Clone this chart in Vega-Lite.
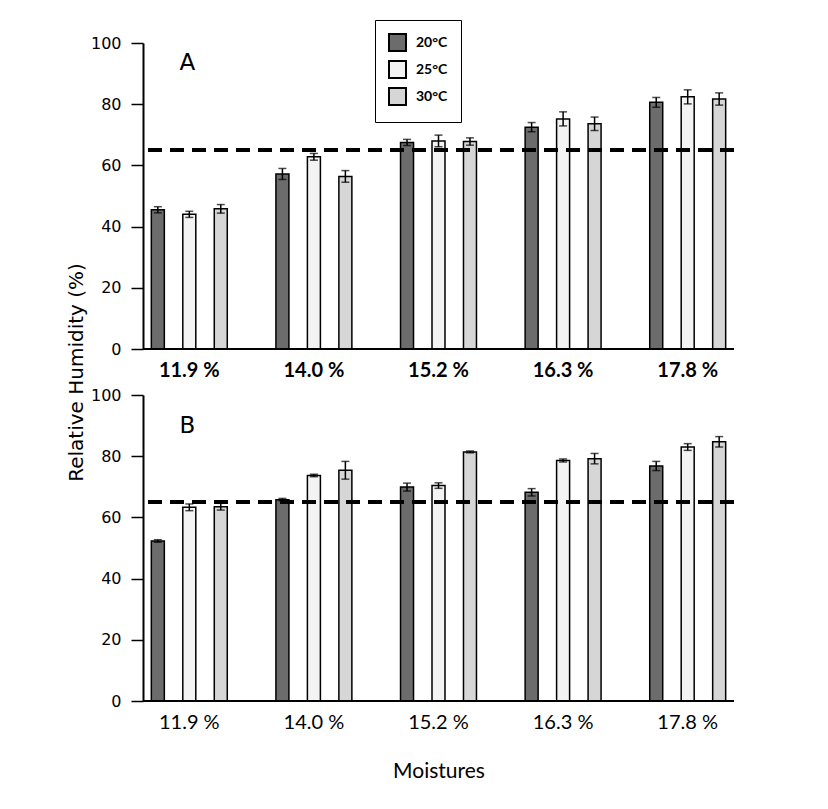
{
  "$schema": "https://vega.github.io/schema/vega-lite/v6.json",
  "background": "white",
  "padding": {"left": 66, "top": 19, "right": 10, "bottom": 10},
  "bounds": "flush",
  "spacing": 46,
  "datasets": {
    "A": [
      {"moisture": "11.9 %", "temp": "20°C", "rh": 45.5, "err": 1.0},
      {"moisture": "11.9 %", "temp": "25°C", "rh": 44.0, "err": 1.0},
      {"moisture": "11.9 %", "temp": "30°C", "rh": 45.8, "err": 1.4},
      {"moisture": "14.0 %", "temp": "20°C", "rh": 57.2, "err": 1.8},
      {"moisture": "14.0 %", "temp": "25°C", "rh": 62.8, "err": 1.1},
      {"moisture": "14.0 %", "temp": "30°C", "rh": 56.4, "err": 1.9},
      {"moisture": "15.2 %", "temp": "20°C", "rh": 67.5, "err": 1.0},
      {"moisture": "15.2 %", "temp": "25°C", "rh": 68.0, "err": 1.9},
      {"moisture": "15.2 %", "temp": "30°C", "rh": 67.8, "err": 1.2},
      {"moisture": "16.3 %", "temp": "20°C", "rh": 72.5, "err": 1.5},
      {"moisture": "16.3 %", "temp": "25°C", "rh": 75.2, "err": 2.3},
      {"moisture": "16.3 %", "temp": "30°C", "rh": 73.6, "err": 2.2},
      {"moisture": "17.8 %", "temp": "20°C", "rh": 80.6, "err": 1.6},
      {"moisture": "17.8 %", "temp": "25°C", "rh": 82.4, "err": 2.3},
      {"moisture": "17.8 %", "temp": "30°C", "rh": 81.7, "err": 2.0}
    ],
    "B": [
      {"moisture": "11.9 %", "temp": "20°C", "rh": 52.3, "err": 0.4},
      {"moisture": "11.9 %", "temp": "25°C", "rh": 63.3, "err": 1.1},
      {"moisture": "11.9 %", "temp": "30°C", "rh": 63.5, "err": 1.1},
      {"moisture": "14.0 %", "temp": "20°C", "rh": 65.8, "err": 0.4},
      {"moisture": "14.0 %", "temp": "25°C", "rh": 73.7, "err": 0.4},
      {"moisture": "14.0 %", "temp": "30°C", "rh": 75.4, "err": 2.9},
      {"moisture": "15.2 %", "temp": "20°C", "rh": 69.9, "err": 1.3},
      {"moisture": "15.2 %", "temp": "25°C", "rh": 70.4, "err": 0.9},
      {"moisture": "15.2 %", "temp": "30°C", "rh": 81.4, "err": 0.3},
      {"moisture": "16.3 %", "temp": "20°C", "rh": 68.2, "err": 1.2},
      {"moisture": "16.3 %", "temp": "25°C", "rh": 78.6, "err": 0.5},
      {"moisture": "16.3 %", "temp": "30°C", "rh": 79.2, "err": 1.7},
      {"moisture": "17.8 %", "temp": "20°C", "rh": 76.8, "err": 1.5},
      {"moisture": "17.8 %", "temp": "25°C", "rh": 83.0, "err": 1.1},
      {"moisture": "17.8 %", "temp": "30°C", "rh": 84.7, "err": 1.7}
    ]
  },
  "resolve": {"scale": {"fill": "shared"}, "legend": {"fill": "shared"}},
  "vconcat": [
    {
      "width": 591,
      "height": 306,
      "layer": [
        {
          "data": {"name": "A"},
          "mark": {"type": "bar", "stroke": "black", "strokeWidth": 1.5},
          "encoding": {
            "x": {"field": "moisture", "type": "nominal", "sort": null,
              "scale": {"range": [-16, 607], "paddingInner": 0, "paddingOuter": 0},
              "axis": {"title": null, "domain": false, "ticks": false, "tickSize": 0, "labelPadding": 11, "labelDx": 16, "labelAngle": 0, "labelFont": "Lato", "labelFontSize": 20, "labelFontWeight": "bold", "labelColor": "black"}},
            "xOffset": {"field": "temp", "type": "nominal", "scale": {"paddingInner": 0.587, "paddingOuter": 0.773}},
            "y": {"field": "rh", "type": "quantitative", "title": "Relative Humidity (%)", "scale": {"domain": [0, 100], "nice": false},
              "axis": {"values": [0, 20, 40, 60, 80, 100], "grid": false, "title": "Relative Humidity (%)", "titleX": -57, "titleY": 329, "titleFont": "DejaVu Sans", "titleFontSize": 20, "titleFontWeight": "normal", "titleColor": "black",
                "domainColor": "black", "domainWidth": 2, "tickColor": "black", "tickWidth": 1.5, "tickSize": 12, "labelPadding": 10, "labelFont": "DejaVu Sans", "labelFontSize": 16, "labelColor": "black"}},
            "fill": {"field": "temp", "type": "nominal",
              "scale": {"domain": ["20°C", "25°C", "30°C"], "range": ["#6c6c6c", "#f3f3f3", "#d6d6d6"]},
              "legend": {"title": null, "orient": "none", "legendX": 232, "legendY": -23, "direction": "vertical", "strokeColor": "black", "fillColor": "white", "padding": 13, "symbolType": "square", "symbolSize": 289, "symbolStrokeColor": "black", "symbolStrokeWidth": 2, "symbolOpacity": 1, "labelFont": "Lato", "labelFontSize": 14, "labelFontWeight": "bold", "labelColor": "black", "labelOffset": 9, "rowPadding": 2}}
          }
        },
        {
          "data": {"name": "A"},
          "mark": {"type": "errorbar", "color": "black", "ticks": {"size": 8}, "thickness": 1.5},
          "encoding": {
            "x": {"field": "moisture", "type": "nominal", "sort": null},
            "xOffset": {"field": "temp", "type": "nominal"},
            "y": {"field": "rh", "type": "quantitative", "title": "Relative Humidity (%)"},
            "yError": {"field": "err"}
          }
        },
        {
          "data": {"values": [{"base": 0}]},
          "mark": {"type": "rule", "color": "black", "strokeWidth": 2},
          "encoding": {"y": {"field": "base", "type": "quantitative", "title": "Relative Humidity (%)"}}
        },
        {
          "data": {"values": [{"threshold": 65}]},
          "mark": {"type": "rule", "color": "black", "strokeWidth": 4, "strokeDash": [14, 8]},
          "encoding": {"y": {"field": "threshold", "type": "quantitative", "title": "Relative Humidity (%)"}}
        },
        {
          "data": {"values": [{"label": "A", "moisture": "11.9 %", "pos": 93.6}]},
          "mark": {"type": "text", "font": "DejaVu Sans", "fontSize": 23, "color": "black", "align": "center", "baseline": "middle", "dx": -2},
          "encoding": {
            "x": {"field": "moisture", "type": "nominal", "sort": null},
            "y": {"field": "pos", "type": "quantitative", "title": "Relative Humidity (%)"},
            "text": {"field": "label"}
          }
        }
      ]
    },
    {
      "width": 591,
      "height": 306,
      "layer": [
        {
          "data": {"name": "B"},
          "mark": {"type": "bar", "stroke": "black", "strokeWidth": 1.5},
          "encoding": {
            "x": {"field": "moisture", "type": "nominal", "sort": null, "title": "Moistures",
              "scale": {"range": [-16, 607], "paddingInner": 0, "paddingOuter": 0},
              "axis": {"title": "Moistures", "titleFont": "Lato", "titleFontSize": 21, "titleFontWeight": "normal", "titleColor": "black", "titlePadding": 28, "domain": false, "ticks": false, "tickSize": 0, "labelPadding": 11, "labelDx": 16, "labelAngle": 0, "labelFont": "Lato", "labelFontSize": 20, "labelFontWeight": "normal", "labelColor": "black"}},
            "xOffset": {"field": "temp", "type": "nominal", "scale": {"paddingInner": 0.587, "paddingOuter": 0.773}},
            "y": {"field": "rh", "type": "quantitative", "scale": {"domain": [0, 100], "nice": false},
              "axis": {"values": [0, 20, 40, 60, 80, 100], "grid": false, "title": null,
                "domainColor": "black", "domainWidth": 2, "tickColor": "black", "tickWidth": 1.5, "tickSize": 12, "labelPadding": 10, "labelFont": "DejaVu Sans", "labelFontSize": 16, "labelColor": "black"}},
            "fill": {"field": "temp", "type": "nominal",
              "scale": {"domain": ["20°C", "25°C", "30°C"], "range": ["#6c6c6c", "#f3f3f3", "#d6d6d6"]}}
          }
        },
        {
          "data": {"name": "B"},
          "mark": {"type": "errorbar", "color": "black", "ticks": {"size": 8}, "thickness": 1.5},
          "encoding": {
            "x": {"field": "moisture", "type": "nominal", "sort": null, "title": "Moistures"},
            "xOffset": {"field": "temp", "type": "nominal"},
            "y": {"field": "rh", "type": "quantitative"},
            "yError": {"field": "err"}
          }
        },
        {
          "data": {"values": [{"base": 0}]},
          "mark": {"type": "rule", "color": "black", "strokeWidth": 2},
          "encoding": {"y": {"field": "base", "type": "quantitative"}}
        },
        {
          "data": {"values": [{"threshold": 65}]},
          "mark": {"type": "rule", "color": "black", "strokeWidth": 4, "strokeDash": [14, 8]},
          "encoding": {"y": {"field": "threshold", "type": "quantitative"}}
        },
        {
          "data": {"values": [{"label": "B", "moisture": "11.9 %", "pos": 90}]},
          "mark": {"type": "text", "font": "DejaVu Sans", "fontSize": 23, "color": "black", "align": "center", "baseline": "middle", "dx": -2},
          "encoding": {
            "x": {"field": "moisture", "type": "nominal", "sort": null, "title": "Moistures"},
            "y": {"field": "pos", "type": "quantitative"},
            "text": {"field": "label"}
          }
        }
      ]
    }
  ],
  "config": {
    "view": {"stroke": null}
  }
}
